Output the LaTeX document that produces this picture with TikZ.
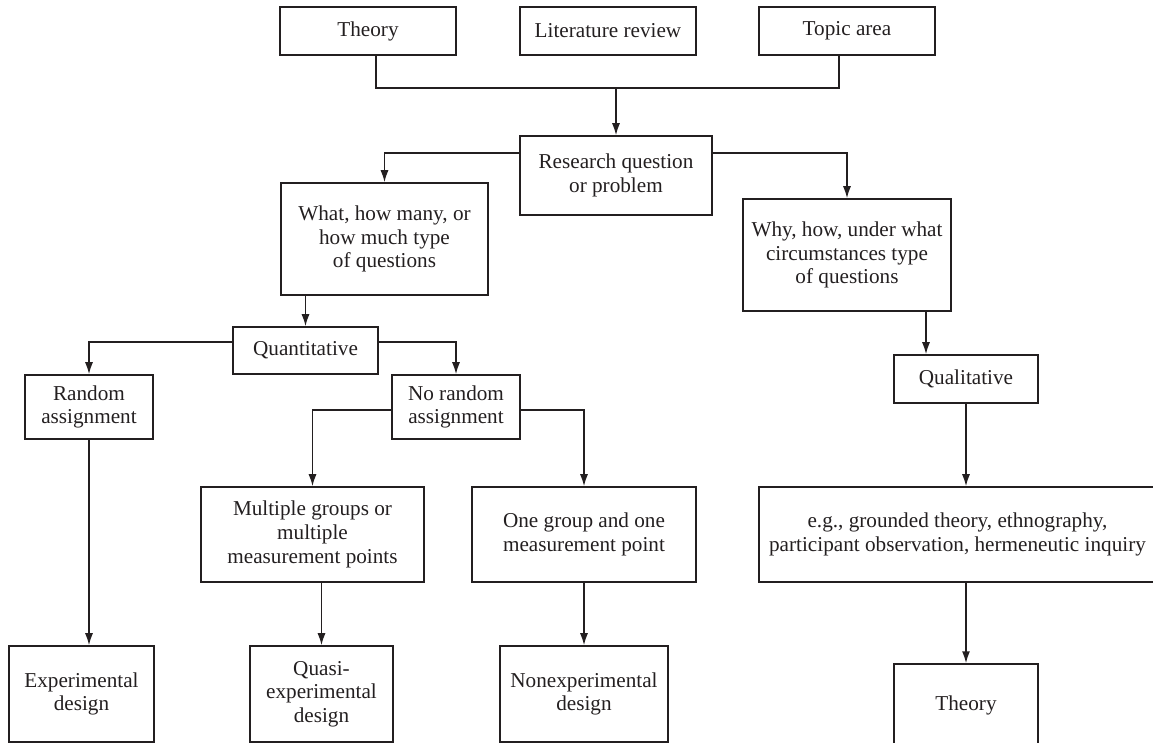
\documentclass[tikz,border=0pt]{standalone}
\usepackage{fontspec}
\setmainfont{Liberation Serif}
\usetikzlibrary{positioning}
\usetikzlibrary{calc}
\usetikzlibrary{arrows.meta}
\usepackage{xcolor}
\definecolor{ink}{HTML}{231F20}
\tikzset{
	-{Latex[length=6pt,width=4pt]},
	every path/.style={line width=0.75pt},
	box/.style={rectangle, draw, inner sep=0pt, align=center, font=\fontsize{10.6}{11.8}\selectfont},
	plain/.style={-}
}

\begin{document}
\begin{tikzpicture}[x=0.5pt, y=-0.5pt, color=ink]
	\useasboundingbox (0,0) rectangle (1153,743);
	% Sources
	\node[box, minimum width=88pt, minimum height=24pt] (1) at (368,31) {Theory};
	\node[box, minimum width=88pt, minimum height=24pt] (2) at (608,31) {Literature review};
	\node[box, minimum width=88pt, minimum height=24pt] (3) at (847,31) {Topic area};
	\node[box, minimum width=96pt, minimum height=39.5pt] (4) at (616,175.5) {Research question\\or problem};
	
	\node[box, minimum width=103.5pt, minimum height=56pt] (5) at (384.5,239) {What, how many, or\\how much type\\of questions};
	\node[box, minimum width=104pt, minimum height=56pt] (6) at (847,255) {Why, how, under what\\circumstances type\\of questions};
	
	% Quantitative side
	\node[box, minimum width=72.5pt, minimum height=23.5pt] (7) at (305.5,350.5) {Quantitative};
	\node[box, minimum width=64pt, minimum height=32pt] (8) at (89,407) {Random\\assignment};
	\node[box, minimum width=64pt, minimum height=32pt] (9) at (456,407) {No random\\assignment};
	\node[box, minimum width=111.5pt, minimum height=47.5pt] (10) at (312.5,534.5) {Multiple groups or\\multiple\\measurement points};
	\node[box, minimum width=112pt, minimum height=47.5pt] (11) at (584,534.5) {One group and one\\measurement point};
	\node[box, minimum width=72.5pt, minimum height=48pt] (12) at (81.5,694) {Experimental\\design};
	\node[box, minimum width=71.5pt, minimum height=48pt] (13) at (321.5,694) {Quasi-\\experimental\\design};
	\node[box, minimum width=84pt, minimum height=48pt] (14) at (584,694) {Nonexperimental\\design};
	
	% Qualitative side
	\node[box, minimum width=72pt, minimum height=24pt] (15) at (966,379) {Qualitative};
	\node[box, minimum width=198.5pt, minimum height=47.5pt] (16) at (957.5,534.5) {e.g., grounded theory, ethnography,\\participant observation, hermeneutic inquiry};
	\node[box, minimum width=72pt, minimum height=41pt] (17) at (966,705) {Theory};
	
	\coordinate (m) at (616,88);
	\coordinate (w) at (926,0);
	
	\draw[plain] ([xshift=4pt]1.south) |- (m) -| ([xshift=-4pt]3.south);
	\draw (m) -- (4);
	\draw ([yshift=-9pt]4.north west) -| (5);
	\draw ([yshift=-9pt]4.north east) -| (6);
	\draw (5.south -| 7) -- (7);
	\draw ([yshift=-8pt]7.north west) -| (8);
	\draw ([yshift=-8pt]7.north east) -| (9);
	\draw ([yshift=-1.5pt]9.west) -| (10);
	\draw ([yshift=-1.5pt]9.east) -| (11);
	\draw (8) -- (8 |- 12.north);
	\draw (13 |- 10.south) -- (13);
	\draw (11) -- (14);
	\draw (6.south -| w) -- (15.north -| w);
	\draw (15) -- (15 |- 16.north);
	\draw (16.south -| 15) -- (17);
\end{tikzpicture}
\end{document}
